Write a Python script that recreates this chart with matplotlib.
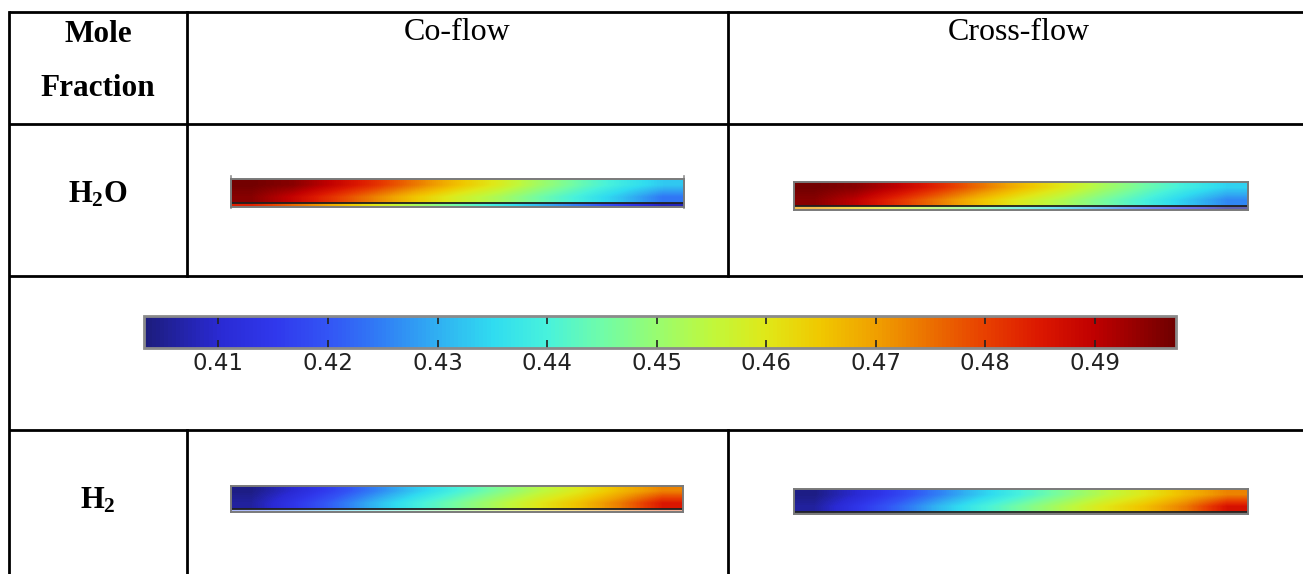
import matplotlib
matplotlib.use("Agg")
import matplotlib.pyplot as plt
import numpy as np
from matplotlib.colors import LinearSegmentedColormap, Normalize
from matplotlib.cm import ScalarMappable

plt.rcParams['mathtext.fontset'] = 'custom'
plt.rcParams['mathtext.rm'] = 'Liberation Serif'
plt.rcParams['mathtext.bf'] = 'Liberation Serif:bold'

# Textos da tabela
cabecalho_linha = ['Mole', 'Fraction']
colunas = ['Co-flow', 'Cross-flow']
especies = [r'$\mathbf{H_2O}$', r'$\mathbf{H_2}$']

# Escala da barra de cores
vmin, vmax = 0.4032, 0.4974
ticks = [0.41, 0.42, 0.43, 0.44, 0.45, 0.46, 0.47, 0.48, 0.49]

# Frações molares (11 pontos ao longo do canal: topo, base, faixa fina)
h2o_co_topo = [0.497, 0.495, 0.489, 0.482, 0.474, 0.466, 0.459, 0.451, 0.444, 0.438, 0.433]
h2o_co_base = [0.495, 0.489, 0.481, 0.473, 0.465, 0.458, 0.452, 0.445, 0.439, 0.432, 0.424]
h2o_co_fina = [0.484, 0.476, 0.468, 0.460, 0.452, 0.445, 0.438, 0.431, 0.424, 0.416, 0.408]

h2o_cr_topo = [0.497, 0.495, 0.490, 0.483, 0.475, 0.467, 0.460, 0.452, 0.445, 0.439, 0.434]
h2o_cr_base = [0.495, 0.490, 0.482, 0.474, 0.466, 0.459, 0.453, 0.446, 0.440, 0.433, 0.426]
h2o_cr_fina = [0.470, 0.464, 0.458, 0.452, 0.446, 0.440, 0.434, 0.428, 0.421, 0.414, 0.405]

h2_co_topo = [0.404, 0.410, 0.417, 0.425, 0.433, 0.440, 0.447, 0.454, 0.460, 0.467, 0.473]
h2_co_base = [0.406, 0.414, 0.422, 0.431, 0.439, 0.446, 0.453, 0.460, 0.466, 0.474, 0.485]
h2_co_fina = [0.420, 0.426, 0.432, 0.438, 0.444, 0.450, 0.456, 0.462, 0.468, 0.474, 0.480]

h2_cr_topo = [0.404, 0.410, 0.417, 0.425, 0.433, 0.440, 0.447, 0.454, 0.460, 0.467, 0.473]
h2_cr_base = [0.406, 0.414, 0.422, 0.431, 0.439, 0.446, 0.453, 0.460, 0.466, 0.474, 0.486]
h2_cr_fina = [0.420, 0.426, 0.432, 0.438, 0.444, 0.450, 0.456, 0.462, 0.468, 0.474, 0.480]

# Paleta tipo "Rainbow" do COMSOL
nos = [(0.4032, '#1c1c7c'), (0.41, '#2a2ad4'), (0.415, '#3038ec'), (0.42, '#3355f5'),
       (0.425, '#3080f5'), (0.43, '#30b0f2'), (0.435, '#30dcf0'), (0.44, '#48f2dc'),
       (0.445, '#70fca8'), (0.45, '#98fc70'), (0.455, '#c0f83c'), (0.46, '#e0e818'),
       (0.465, '#f0c800'), (0.47, '#f0a000'), (0.475, '#eb7000'), (0.48, '#e84000'),
       (0.485, '#dc1800'), (0.49, '#c00000'), (0.4974, '#700000')]
cmap = LinearSegmentedColormap.from_list('comsol', [((v - vmin) / (vmax - vmin), c) for v, c in nos])
norm = Normalize(vmin, vmax)

W, H = 1303, 574
fig = plt.figure(figsize=(W / 100, H / 100), dpi=100)


def eixo_px(x, y, w, h):
    return fig.add_axes([x / W, 1 - (y + h) / H, w / W, h / H])


# Fundo com a tabela
bg = fig.add_axes([0, 0, 1, 1])
bg.set_xlim(0, W)
bg.set_ylim(H, 0)
bg.axis('off')

lw = 2.0
for y in [12, 124, 275.5, 430]:
    bg.plot([9, W], [y, y], color='black', lw=lw, solid_capstyle='butt')
bg.plot([9, 9], [12, H], color='black', lw=lw)
for x in [187, 728]:
    bg.plot([x, x], [12, 275.5], color='black', lw=lw)
    bg.plot([x, x], [430, H], color='black', lw=lw)

serif = 'Liberation Serif'
bg.text(98, 35, cabecalho_linha[0], ha='center', va='center', fontsize=22.5, fontweight='bold', family=serif)
bg.text(98, 89, cabecalho_linha[1], ha='center', va='center', fontsize=22.5, fontweight='bold', family=serif)
bg.text(457, 32, colunas[0], ha='center', va='center', fontsize=23, family=serif)
bg.text(1019, 32, colunas[1], ha='center', va='center', fontsize=23, family=serif)
bg.text(98, 194, especies[0], ha='center', va='center', fontsize=22)
bg.text(98, 500, especies[1], ha='center', va='center', fontsize=22)

# marcas cinzas nas pontas da faixa co-flow de H2O
for x in [231, 684]:
    bg.plot([x, x], [176, 208], color='#909090', lw=1.2)


def desenha_faixa(x, y, w, h, h_fina, topo, base, fina, alfa_fina=1.0):
    ax = eixo_px(x, y, w, h)
    f = h_fina / h
    ax.imshow(np.array([topo, base]), cmap=cmap, norm=norm, aspect='auto',
              interpolation='bilinear', extent=(0, 1, f, 1), origin='upper')
    ax.imshow(np.array([fina]), cmap=cmap, norm=norm, aspect='auto',
              interpolation='bilinear', extent=(0, 1, 0, f), alpha=alfa_fina)
    ax.axhline(f, color='#202020', lw=1.3)
    ax.set_xlim(0, 1)
    ax.set_ylim(0, 1)
    ax.set_xticks([])
    ax.set_yticks([])
    for s in ax.spines.values():
        s.set_color('#7a7a7a')
        s.set_linewidth(1.4)
    return ax


desenha_faixa(231, 179, 453, 28, 4, h2o_co_topo, h2o_co_base, h2o_co_fina)
desenha_faixa(794, 182, 454, 28, 4, h2o_cr_topo, h2o_cr_base, h2o_cr_fina, 0.7)
desenha_faixa(231, 486, 452, 26, 3, h2_co_topo, h2_co_base, h2_co_fina, 0.4)
desenha_faixa(794, 489, 454, 25, 2, h2_cr_topo, h2_cr_base, h2_cr_fina, 0.4)

# Barra de cores
cax = eixo_px(144, 316, 1032, 32)
cb = fig.colorbar(ScalarMappable(norm=norm, cmap=cmap), cax=cax, orientation='horizontal')
cb.set_ticks(ticks)
cb.set_ticklabels([f'{t:.2f}' for t in ticks])
cax.tick_params(axis='x', direction='in', top=True, bottom=True, length=6, width=1.2,
                color='#222222', labelsize=16.5, labelcolor='#222222', pad=3)
cb.outline.set_edgecolor('#8a8a8a')
cb.outline.set_linewidth(2.0)

fig.savefig('out.png', dpi=100)
